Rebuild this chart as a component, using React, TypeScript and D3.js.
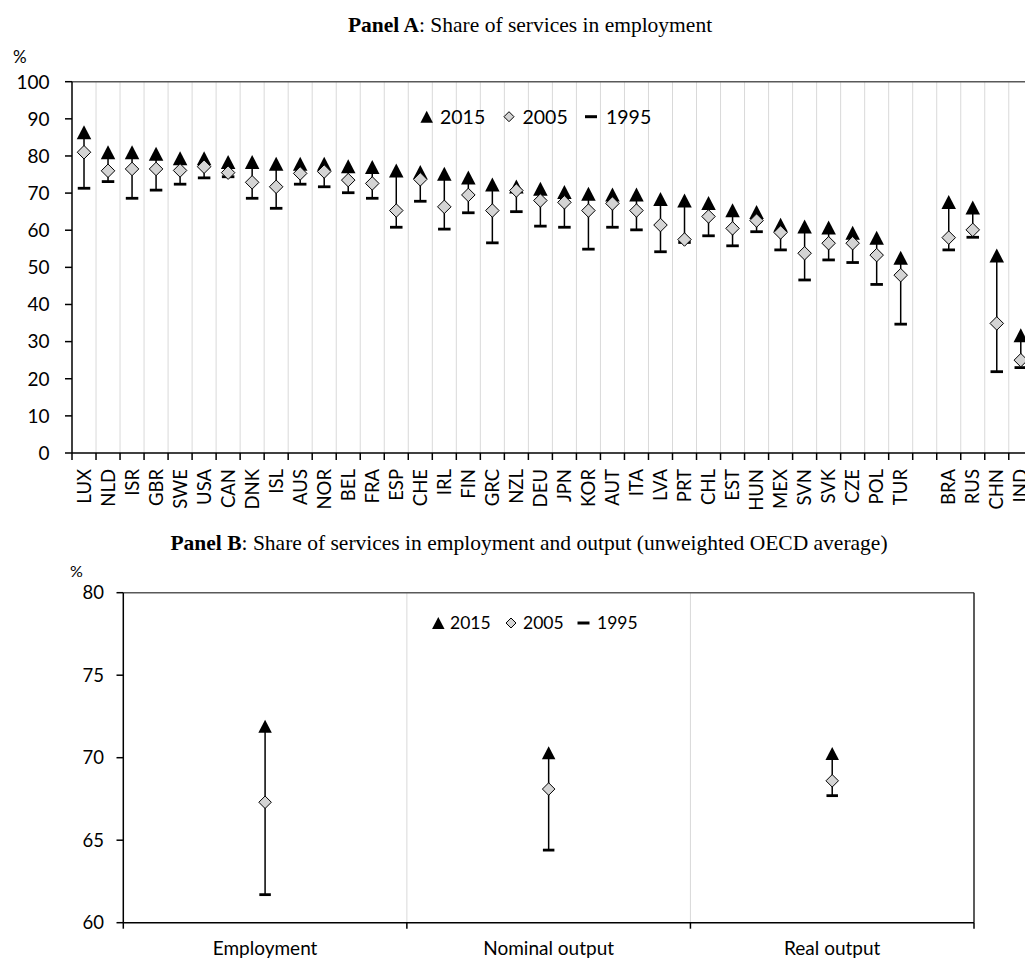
import React from "react";
import * as d3 from "d3";

// ---------- Data ----------
const countriesA = ["LUX","NLD","ISR","GBR","SWE","USA","CAN","DNK","ISL","AUS","NOR","BEL","FRA","ESP","CHE","IRL","FIN","GRC","NZL","DEU","JPN","KOR","AUT","ITA","LVA","PRT","CHL","EST","HUN","MEX","SVN","SVK","CZE","POL","TUR","","BRA","RUS","CHN","IND"];
const a2015 = [86.4,81.0,81.0,80.6,79.4,79.4,78.4,78.4,77.9,77.9,77.9,77.2,77.0,76.1,75.7,75.2,74.2,72.3,71.8,71.2,70.3,69.8,69.6,69.6,68.4,68.0,67.3,65.4,64.9,61.5,61.0,60.7,59.3,58.0,52.6,null,67.6,66.1,53.2,31.7];
const a2005 = [81.0,76.0,76.5,76.5,76.1,77.1,75.5,72.9,71.7,75.3,75.8,73.5,72.6,65.3,73.7,66.3,69.5,65.3,70.7,68.0,67.5,65.3,67.2,65.3,61.4,57.5,63.7,60.5,62.6,59.4,53.8,56.5,56.5,53.3,47.9,null,58.0,60.1,34.9,25.0];
const a1995 = [71.3,73.1,68.6,70.8,72.4,74.1,74.4,68.6,65.9,72.4,71.7,70.1,68.6,60.8,67.8,60.3,64.7,56.6,65.0,61.1,60.8,54.9,60.8,60.1,54.2,56.7,58.5,55.8,59.6,54.7,46.6,52.0,51.3,45.4,34.7,null,54.7,58.1,21.9,23.0];
const ticksA = [0,10,20,30,40,50,60,70,80,90,100];

const categoriesB = ["Employment","Nominal output","Real output"];
const b2015 = [71.9, 70.3, 70.25];
const b2005 = [67.3, 68.1, 68.6];
const b1995 = [61.7, 64.4, 67.7];
const ticksB = [60,65,70,75,80];

const legendItems = ["2015","2005","1995"];

// ---------- Styling ----------
const SANS = "Lato, 'Open Sans', sans-serif";
const SERIF = "'Liberation Serif', 'Times New Roman', serif";
const GRID = "#d9d9d9";
const BORDER = "#595959";
const DIAMOND_FILL = "#d4d4d4";

function tri(cx: number, cy: number, w: number, h: number) {
  const p = d3.path();
  p.moveTo(cx, cy - h / 2);
  p.lineTo(cx + w / 2, cy + h / 2);
  p.lineTo(cx - w / 2, cy + h / 2);
  p.closePath();
  return p.toString();
}
function dia(cx: number, cy: number, w: number, h: number) {
  const p = d3.path();
  p.moveTo(cx, cy - h / 2);
  p.lineTo(cx + w / 2, cy);
  p.lineTo(cx, cy + h / 2);
  p.lineTo(cx - w / 2, cy);
  p.closePath();
  return p.toString();
}

function Marks({ x, y, v15, v05, v95, tw, th, dw, dash }: any) {
  const vals = [v15, v05, v95];
  const lo = d3.min(vals) as number;
  const hi = d3.max(vals) as number;
  return (
    <g>
      <line x1={x} x2={x} y1={y(lo)} y2={y(hi)} stroke="#000" strokeWidth={1.5} />
      <line x1={x - dash / 2} x2={x + dash / 2} y1={y(v95)} y2={y(v95)} stroke="#000" strokeWidth={2.8} />
      <path d={tri(x, y(v15), tw, th)} fill="#000" />
      <path d={dia(x, y(v05), dw, dw)} fill={DIAMOND_FILL} stroke="#000" strokeWidth={1} />
    </g>
  );
}

function Legend({ y0, fs, positions }: any) {
  return (
    <g fontFamily={SANS} fontSize={fs}>
      <path d={tri(positions[0][0], y0, 12.5, 12)} fill="#000" />
      <path d={dia(positions[1][0], y0, 10, 10)} fill={DIAMOND_FILL} stroke="#000" strokeWidth={1} />
      <line x1={positions[2][0] - 6} x2={positions[2][0] + 6} y1={y0} y2={y0} stroke="#000" strokeWidth={3} />
      {legendItems.map((t, i) => (
        <text key={t} x={positions[i][1]} y={y0} dy="0.36em" fill="#000">{t}</text>
      ))}
    </g>
  );
}

export default function App() {
  // Panel A scales
  const left = 72;
  const step = 24.02;
  const xA = d3.scaleBand<number>().domain(d3.range(countriesA.length)).range([left, left + step * countriesA.length]).padding(0);
  const yA = d3.scaleLinear().domain([0, 100]).range([453, 81.7]);
  const cA = (i: number) => (xA(i) as number) + xA.bandwidth() / 2;
  const boundsA = d3.range(countriesA.length + 1).map((i) => left + i * xA.bandwidth());

  // Panel B scales
  const xB = d3.scaleBand().domain(categoriesB).range([123.3, 974]).padding(0);
  const yB = d3.scaleLinear().domain([60, 80]).range([922.7, 592.7]);
  const cB = (c: string) => (xB(c) as number) + xB.bandwidth() / 2;
  const boundsB = d3.range(categoriesB.length + 1).map((i) => 123.3 + i * xB.bandwidth());

  return (
    <svg width={1025} height={958} style={{ position: "absolute", left: 0, top: 0, background: "#fff" }}>
      <rect x={0} y={0} width={1025} height={958} fill="#fff" />

      {/* ---------------- Panel A ---------------- */}
      <text x={530} y={32} textAnchor="middle" fontFamily={SERIF} fontSize={21.5} fill="#000">
        <tspan fontWeight="bold">Panel A</tspan>: Share of services in employment
      </text>
      <text x={13} y={63} fontFamily={SANS} fontSize={17} fill="#000">%</text>

      {boundsA.slice(1).map((bx, i) => (
        <line key={"ga" + i} x1={bx} x2={bx} y1={yA(100)} y2={yA(0)} stroke={GRID} strokeWidth={1} />
      ))}
      <line x1={left} x2={1025} y1={yA(100)} y2={yA(100)} stroke={BORDER} strokeWidth={1.5} />
      <line x1={left} x2={left} y1={yA(100)} y2={yA(0)} stroke="#000" strokeWidth={1.5} />
      <line x1={left} x2={1025} y1={yA(0)} y2={yA(0)} stroke="#000" strokeWidth={1.5} />
      {ticksA.map((t) => (
        <g key={"ta" + t}>
          <line x1={left - 7} x2={left} y1={yA(t)} y2={yA(t)} stroke="#000" strokeWidth={1.5} />
          <text x={49.5} y={yA(t)} dy="0.36em" textAnchor="end" fontFamily={SANS} fontSize={19} fill="#000">{t}</text>
        </g>
      ))}
      {boundsA.map((bx, i) => (
        <line key={"xt" + i} x1={bx} x2={bx} y1={yA(0)} y2={yA(0) + 7} stroke="#000" strokeWidth={1.5} />
      ))}
      {countriesA.map((c, i) => (
        <text key={"xl" + i} transform={`translate(${cA(i)},469) rotate(-90)`} textAnchor="end" dy="0.36em"
          fontFamily={SANS} fontSize={18.5} fill="#000">{c}</text>
      ))}

      {countriesA.map((c, i) =>
        a2015[i] == null ? null : (
          <Marks key={"ma" + i} x={cA(i)} y={yA} v15={a2015[i]} v05={a2005[i]} v95={a1995[i]} tw={14.5} th={14} dw={13.5} dash={12.5} />
        )
      )}

      <Legend y0={116.7} fs={19.5} positions={[[426.7, 440], [509, 522.5], [591, 606]]} />

      {/* ---------------- Panel B ---------------- */}
      <text x={529} y={550} textAnchor="middle" fontFamily={SERIF} fontSize={21.5} fill="#000">
        <tspan fontWeight="bold">Panel B</tspan>: Share of services in employment and output (unweighted OECD average)
      </text>
      <text x={70} y={577} fontFamily={SANS} fontSize={16} fill="#000">%</text>

      {boundsB.slice(1, -1).map((bx, i) => (
        <line key={"gb" + i} x1={bx} x2={bx} y1={yB(80)} y2={yB(60)} stroke={GRID} strokeWidth={1} />
      ))}
      <line x1={123.3} x2={974} y1={yB(80)} y2={yB(80)} stroke={BORDER} strokeWidth={1.5} />
      <line x1={974} x2={974} y1={yB(80)} y2={yB(60)} stroke="#262626" strokeWidth={1.5} />
      <line x1={123.3} x2={123.3} y1={yB(80)} y2={yB(60)} stroke="#000" strokeWidth={1.5} />
      <line x1={123.3} x2={974} y1={yB(60)} y2={yB(60)} stroke="#000" strokeWidth={1.5} />
      {ticksB.map((t) => (
        <g key={"tb" + t}>
          <line x1={116.5} x2={123.3} y1={yB(t)} y2={yB(t)} stroke="#000" strokeWidth={1.5} />
          <text x={104} y={yB(t)} dy="0.36em" textAnchor="end" fontFamily={SANS} fontSize={18.5} fill="#000">{t}</text>
        </g>
      ))}
      {boundsB.map((bx, i) => (
        <line key={"xtb" + i} x1={bx} x2={bx} y1={yB(60)} y2={yB(60) + 6} stroke="#000" strokeWidth={1.5} />
      ))}
      {categoriesB.map((c) => (
        <text key={"xlb" + c} x={cB(c)} y={955} textAnchor="middle" fontFamily={SANS} fontSize={19} fill="#000">{c}</text>
      ))}

      {categoriesB.map((c, i) => (
        <Marks key={"mb" + i} x={cB(c)} y={yB} v15={b2015[i]} v05={b2005[i]} v95={b1995[i]} tw={13.5} th={13} dw={12.5} dash={11.5} />
      ))}

      <Legend y0={623} fs={17.5} positions={[[438.3, 450], [511, 523], [583.5, 597]]} />
    </svg>
  );
}
